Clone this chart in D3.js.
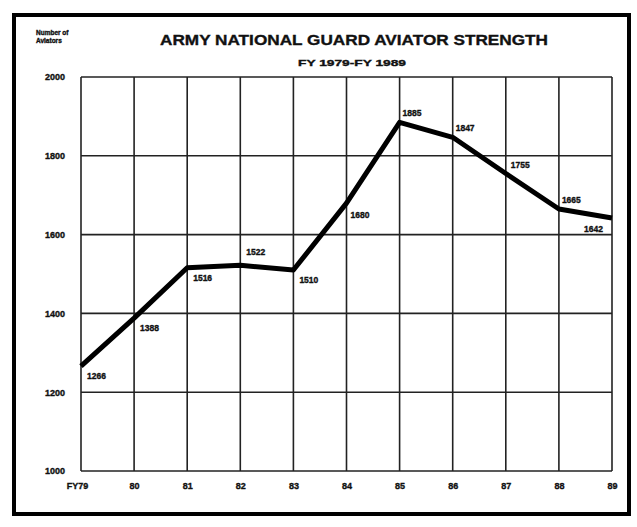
<!DOCTYPE html>
<html>
<head>
<meta charset="utf-8">
<script src="https://cdn.jsdelivr.net/npm/d3@7"></script>
<style>
  html, body { margin: 0; padding: 0; background: #fff; }
  svg { display: block; }
  text { font-family: "Liberation Sans", Arial, sans-serif; font-weight: bold; fill: #111; stroke: #111; stroke-width: 0.35; }
</style>
</head>
<body>
<svg id="chart" width="637" height="527"></svg>
<script>
// ---- data ----
const years = ["FY79", "80", "81", "82", "83", "84", "85", "86", "87", "88", "89"];
const aviators = [1266, 1388, 1516, 1522, 1510, 1680, 1885, 1847, 1755, 1665, 1642];
const yTicks = [1000, 1200, 1400, 1600, 1800, 2000];
const title = "ARMY NATIONAL GUARD AVIATOR STRENGTH";
const subtitle = "FY 1979-FY 1989";
const yAxisTitle = ["Number of", "Aviators"];
// label placement keys per point
const labelPos = ["br", "br", "br", "a", "br", "br2", "ar", "ar", "r", "ar", "bl"];

const svg = d3.select("#chart");
const m = { left: 81, right: 612, top: 77, bottom: 471 };

// outer frame
svg.append("rect").attr("x", 14).attr("y", 15).attr("width", 615).attr("height", 499)
  .attr("fill", "none").attr("stroke", "#000").attr("stroke-width", 4);

const x = d3.scalePoint().domain(years).range([m.left, m.right]);
const y = d3.scaleLinear().domain([1000, 2000]).range([m.bottom, m.top]);

// grid
const g = svg.append("g");
g.selectAll("line.v").data(years).enter().append("line")
  .attr("x1", d => x(d)).attr("x2", d => x(d))
  .attr("y1", m.top).attr("y2", m.bottom)
  .attr("stroke", "#222").attr("stroke-width", 1.6);
g.selectAll("line.h").data(yTicks).enter().append("line")
  .attr("x1", m.left).attr("x2", m.right)
  .attr("y1", d => y(d)).attr("y2", d => y(d))
  .attr("stroke", "#222").attr("stroke-width", 1.6);

// y axis labels
const yAxis = d3.axisLeft(y).tickValues(yTicks).tickSize(0).tickPadding(16).tickFormat(d3.format("d"));
const ya = svg.append("g").attr("transform", `translate(${m.left},0)`).call(yAxis);
ya.select(".domain").remove();
ya.selectAll("text").attr("font-size", 9).attr("font-family", "Liberation Sans, Arial").attr("font-weight", "bold")
  .attr("fill", "#111").attr("stroke", "#111").attr("stroke-width", 0.4);

// x axis labels
const xAxis = d3.axisBottom(x).tickSize(0).tickPadding(12);
const xa = svg.append("g").attr("transform", `translate(0,${m.bottom})`).call(xAxis);
xa.select(".domain").remove();
xa.selectAll("text").attr("font-size", 9).attr("font-family", "Liberation Sans, Arial").attr("font-weight", "bold")
  .attr("fill", "#111").attr("stroke", "#111").attr("stroke-width", 0.4)
  .attr("dx", (d, i) => i === 0 ? -4 : 0);

// line
const line = d3.line().x((d, i) => x(years[i])).y(d => y(d));
svg.append("path").datum(aviators).attr("d", line)
  .attr("fill", "none").attr("stroke", "#000").attr("stroke-width", 5)
  .attr("stroke-linejoin", "round");

// point labels
const offs = { br: [6, 13], br2: [4, 15], r: [5, -6], a: [6, -10], ar: [3, -6], bl: [-28, 14] };
svg.selectAll("text.pl").data(aviators).enter().append("text")
  .attr("x", (d, i) => x(years[i]) + offs[labelPos[i]][0])
  .attr("y", (d, i) => y(d) + offs[labelPos[i]][1])
  .attr("font-size", 8.5)
  .text(d => d);

// titles
svg.append("text").attr("x", 354).attr("y", 45).attr("text-anchor", "middle")
  .attr("font-size", 15).attr("stroke-width", 0.6).attr("textLength", 388).attr("lengthAdjust", "spacingAndGlyphs")
  .text(title);
svg.append("text").attr("x", 352).attr("y", 66).attr("text-anchor", "middle")
  .attr("font-size", 8.5).attr("textLength", 108).attr("lengthAdjust", "spacingAndGlyphs")
  .text(subtitle);
svg.selectAll("text.yt").data(yAxisTitle).enter().append("text")
  .attr("x", 36).attr("y", (d, i) => 35 + i * 8)
  .attr("font-size", 6.5).attr("stroke-width", 0.25)
  .text(d => d);
</script>
</body>
</html>
